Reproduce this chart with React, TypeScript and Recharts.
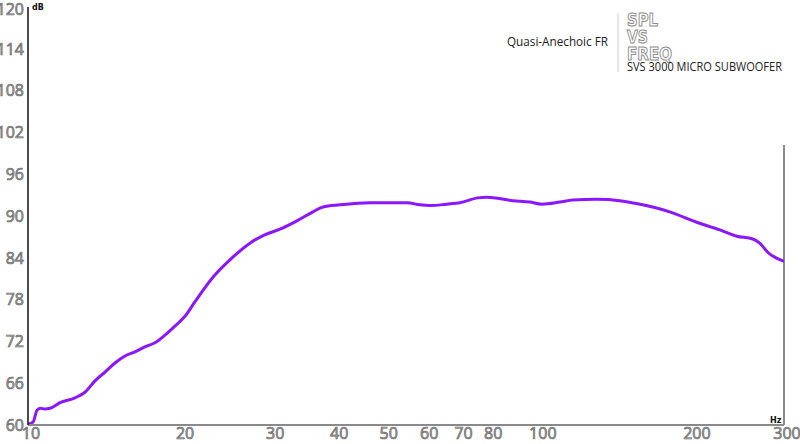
import React from "react";
import { LineChart, Line, XAxis, YAxis, ReferenceLine } from "recharts";

const freqs = [
  10, 10.23, 10.41, 10.56, 10.79, 11.04, 11.55, 12.35, 12.92, 13.5, 14.14, 14.79, 15.47, 16.18, 16.92, 17.7,
  18.52, 19.37, 20.26, 21.2, 22.98, 24.8, 27.14, 29.0, 31.06, 33.53, 36.03, 37.69, 40.68, 46.56, 50.26, 54.99,
  58.31, 60.98, 65.83, 69.79, 75.67, 78.79, 88.57, 95.61, 100.9, 109.4, 116, 129.2, 143.3, 156.8, 166.2,
  179.4, 202.6, 224.7, 242.6, 260.6, 269, 278.8, 300,
];
const spl = [
  60.1, 60.4, 62.1, 62.4, 62.3, 62.4, 63.2, 63.9, 64.7, 66.3, 67.6, 68.9, 69.9, 70.5, 71.2, 71.8,
  72.9, 74.2, 75.6, 77.7, 81.2, 83.7, 86.1, 87.3, 88.1, 89.3, 90.6, 91.3, 91.6, 91.9, 91.9, 91.9,
  91.6, 91.5, 91.7, 91.9, 92.6, 92.7, 92.2, 92.0, 91.7, 92.0, 92.3, 92.4, 92.2, 91.7, 91.3,
  90.6, 89.1, 88.0, 87.1, 86.7, 86.1, 84.8, 83.5,
];
const xTicks = [10, 20, 30, 40, 50, 60, 70, 80, 90, 100, 200, 300];
const yTicks = [60, 66, 72, 78, 84, 90, 96, 102, 108, 114, 120];

const data = freqs.map((f, i) => ({ f, db: spl[i] }));

const tickStyle = {
  fontFamily: "Open Sans",
  fontSize: 16,
  fill: "#a9a9a9",
  stroke: "#6c6c6c",
  strokeWidth: 0.7,
};

function XTick({ x, y, payload }: any) {
  return (
    <text x={x + 3} y={y} dy="0.71em" textAnchor="middle" style={tickStyle}>
      {payload.value}
    </text>
  );
}

function YTick({ x, y, payload }: any) {
  return (
    <text x={x} y={y} dy="0.36em" textAnchor="end" style={tickStyle}>
      {payload.value}
    </text>
  );
}

export default function App() {
  return (
    <div style={{ position: "relative", width: 800, height: 444, background: "#fff" }}>
      <style>{"body{margin:0}"}</style>
      <LineChart width={800} height={444} data={data} margin={{ top: 7, right: 16, left: 0, bottom: 0 }}>
        <XAxis
          dataKey="f"
          type="number"
          scale="log"
          domain={[10, 300]}
          ticks={xTicks}
          allowDataOverflow
          height={19}
          tickLine={false}
          tickSize={0}
          tickMargin={3}
          tick={<XTick />}
          axisLine={{ stroke: "#8a8a8a", strokeWidth: 2 }}
        />
        <YAxis
          type="number"
          domain={[60, 120]}
          ticks={yTicks}
          width={28}
          tickLine={false}
          tickSize={0}
          tickMargin={4}
          tick={<YTick />}
          axisLine={{ stroke: "#111", strokeWidth: 1.5 }}
        />
        <ReferenceLine
          segment={[
            { x: 300, y: 100.2 },
            { x: 300, y: 60 },
          ]}
          stroke="#8a8a8a"
          strokeWidth={2}
        />
        <Line
          dataKey="db"
          type="monotone"
          stroke="#8a17ff"
          strokeWidth={3}
          dot={false}
          isAnimationActive={false}
        />
      </LineChart>
      <svg
        width={800}
        height={444}
        style={{ position: "absolute", left: 0, top: 0, pointerEvents: "none" }}
      >
        <text x={32} y={10} fontFamily="DejaVu Sans" fontWeight="bold" fontSize={8} fill="#111">
          dB
        </text>
        <text x={770} y={423} fontFamily="DejaVu Sans" fontWeight="bold" fontSize={8} fill="#111">
          Hz
        </text>
        <text x={507} y={46} fontFamily="Open Sans" fontSize={13} fill="#222" textLength={101} lengthAdjust="spacingAndGlyphs">
          Quasi-Anechoic FR
        </text>
        <line x1={618} y1={13} x2={618} y2={72} stroke="#cfcfcf" strokeWidth={1} />
        <g fontFamily="DejaVu Sans" fontWeight="bold" fontSize={17} fill="#fff" stroke="#8c8c8c" strokeWidth={1}>
          <text x={627} y={26} textLength={31} lengthAdjust="spacingAndGlyphs">SPL</text>
          <text x={627} y={43} textLength={21} lengthAdjust="spacingAndGlyphs">VS</text>
          <text x={627} y={60} textLength={45} lengthAdjust="spacingAndGlyphs">FREQ</text>
        </g>
        <text x={627} y={71} fontFamily="Open Sans" fontSize={12.5} fill="#222" textLength={155} lengthAdjust="spacingAndGlyphs">
          SVS 3000 MICRO SUBWOOFER
        </text>
      </svg>
    </div>
  );
}
